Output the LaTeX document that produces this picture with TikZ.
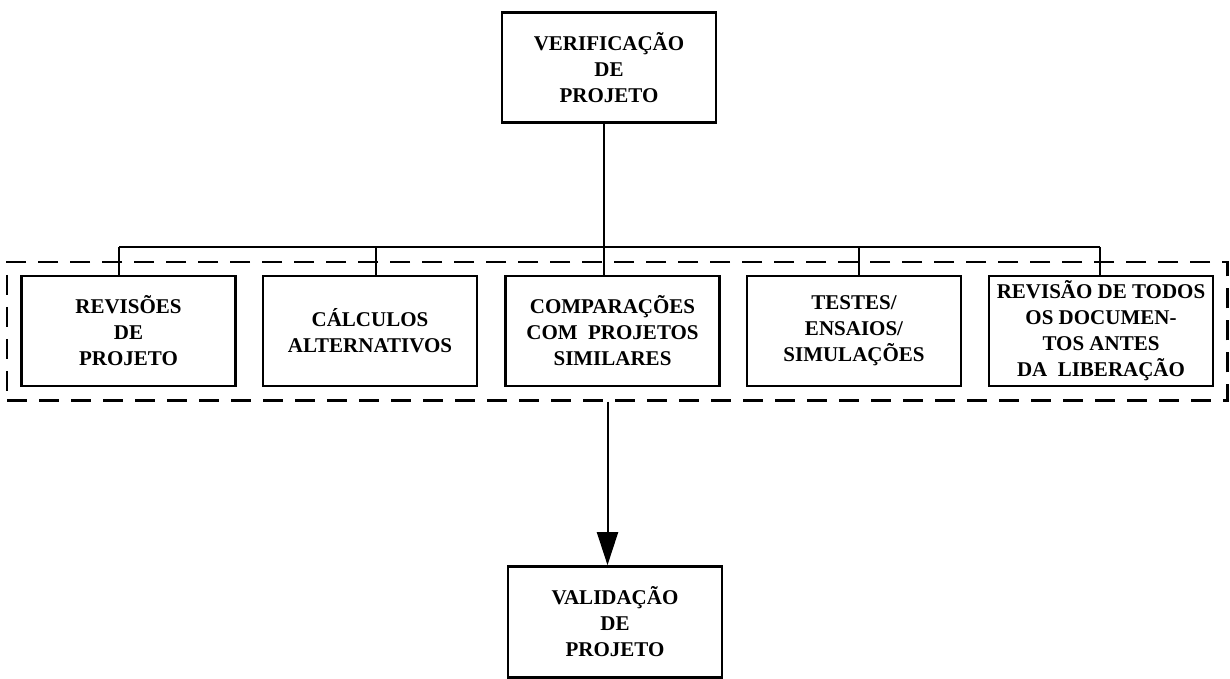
\documentclass[tikz,border=0pt]{standalone}
\usepackage{fontspec}
\setmainfont{Liberation Serif}
\usetikzlibrary{fit,arrows.meta}
\begin{document}
\begin{tikzpicture}[x=0.5pt, y=-0.5pt, link/.style={line width=1pt}]
\useasboundingbox (0,0) rectangle (1230,679);
\begin{scope}[every node/.style = {draw, line width=1.3pt, minimum width=107pt, minimum height=55pt, inner sep=2pt, align=center, font=\bfseries\fontsize{10.5}{13}\selectfont}]
\node (VP) at (609, 67.5) {VERIFICAÇÃO\\DE\\PROJETO};
\node (RP) at (128.5, 331) {REVISÕES\\DE\\PROJETO};
\node (CA) at (370, 331) {CÁLCULOS\\ALTERNATIVOS};
\node (CP) at (612.5, 331) {COMPARAÇÕES\\COM\ \ PROJETOS\\SIMILARES};
\node (TE) at (854, 331) {TESTES/\\ENSAIOS/\\SIMULAÇÕES};
\node (RD) at (1101, 331) [minimum width=112pt] {REVISÃO DE TODOS\\OS DOCUMEN-\\TOS ANTES\\DA\ \ LIBERAÇÃO};
\node (VL) at (615, 622) [minimum height=55.5pt] {VALIDAÇÃO\\DE\\PROJETO};
\end{scope}
\node (grp) [fit=(RP)(RD), draw, line width=1.2pt, dash pattern=on 10pt off 6pt, inner sep=6.5pt] {};
\coordinate (jn) at (604, 247);
\draw[link] (VP.south -| jn) -- (jn);
\foreach \n/\x in {RP/119, CA/376, CP/604, TE/859, RD/1100} {
  \coordinate (t\n) at (\x, 247);
  \draw[link] (t\n) -- (t\n |- \n.north);
}
\draw[link] (tRP) -- (tRD);
\coordinate (ar) at (607.5, 0);
\draw[link, -{Triangle[width=10.5pt, length=16.5pt]}] (grp.south -| ar) -- (VL.north -| ar);
\end{tikzpicture}
\end{document}
